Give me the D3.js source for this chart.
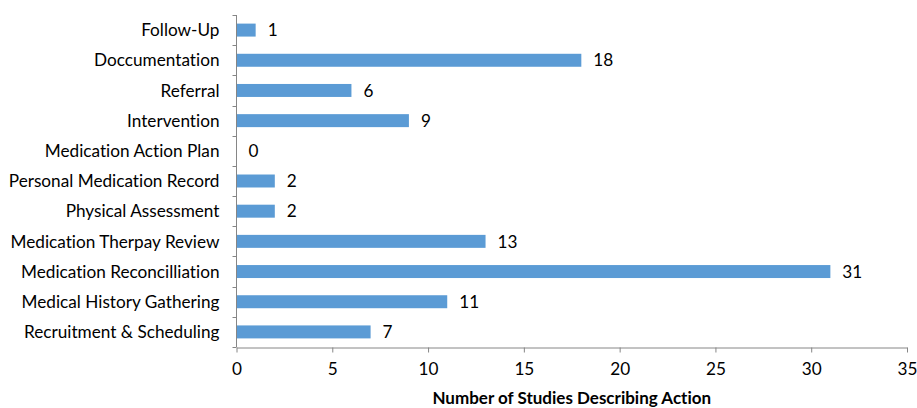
<!DOCTYPE html>
<html>
<head>
<meta charset="utf-8">
<script src="https://cdn.jsdelivr.net/npm/d3@7"></script>
<style>
  html, body { margin: 0; padding: 0; background: #fff; }
  svg { display: block; font-family: Lato, "Open Sans", sans-serif; font-variant-ligatures: none; }
</style>
</head>
<body>
<svg id="chart" width="917" height="408"></svg>
<script>
// Care-process actions, listed top to bottom
const categories = [
  "Follow-Up",
  "Doccumentation",
  "Referral",
  "Intervention",
  "Medication Action Plan",
  "Personal Medication Record",
  "Physical Assessment",
  "Medication Therpay Review",
  "Medication Reconcilliation",
  "Medical History Gathering",
  "Recruitment & Scheduling"
];
const studyCounts = [1, 18, 6, 9, 0, 2, 2, 13, 31, 11, 7];
const xTicks = [0, 5, 10, 15, 20, 25, 30, 35];
const xTitle = "Number of Studies Describing Action";

const svg = d3.select("#chart");
const plotLeft = 236.5, plotRight = 907, plotTop = 15, plotBottom = 347;
const fontFamily = "Lato, \"Open Sans\", sans-serif";
const labelSize = 17.2;

const x = d3.scaleLinear().domain([0, 35]).range([plotLeft, plotRight]);
const y = d3.scaleBand().domain(categories).range([plotTop, plotBottom]).paddingInner(0.57).paddingOuter(0.285);

const axisColor = "#868686";

// bars
svg.append("g").selectAll("rect")
  .data(categories)
  .join("rect")
  .attr("x", x(0))
  .attr("y", d => y(d))
  .attr("width", (d, i) => x(studyCounts[i]) - x(0))
  .attr("height", y.bandwidth())
  .attr("fill", "#5B9BD5");

// value labels
svg.append("g").selectAll("text")
  .data(categories)
  .join("text")
  .attr("x", (d, i) => x(studyCounts[i]) + 12)
  .attr("y", d => y(d) + y.bandwidth() / 2)
  .attr("dy", "0.36em")
  .attr("font-size", labelSize)
  .attr("fill", "#000")
  .text((d, i) => studyCounts[i]);

// category axis: line, ticks between categories, labels
const step = (plotBottom - plotTop) / categories.length;
const yAxis = svg.append("g");
yAxis.append("line")
  .attr("x1", plotLeft).attr("x2", plotLeft)
  .attr("y1", plotTop).attr("y2", plotBottom)
  .attr("stroke", axisColor);
yAxis.selectAll("line.tick")
  .data(d3.range(categories.length + 1))
  .join("line")
  .attr("class", "tick")
  .attr("x1", plotLeft - 4).attr("x2", plotLeft)
  .attr("y1", i => Math.round(plotTop + i * step) + 0.5)
  .attr("y2", i => Math.round(plotTop + i * step) + 0.5)
  .attr("stroke", axisColor);
yAxis.selectAll("text")
  .data(categories)
  .join("text")
  .attr("x", plotLeft - 17)
  .attr("y", d => y(d) + y.bandwidth() / 2)
  .attr("dy", "0.36em")
  .attr("text-anchor", "end")
  .attr("font-size", labelSize)
  .attr("fill", "#000")
  .text(d => d);

// value axis
const xAxis = svg.append("g")
  .attr("transform", `translate(0,${plotBottom + 0.5})`)
  .call(d3.axisBottom(x).tickValues(xTicks).tickSize(5).tickPadding(10).tickSizeOuter(0));
xAxis.select(".domain").attr("stroke", axisColor);
xAxis.selectAll(".tick line").attr("stroke", axisColor);
xAxis.selectAll(".tick text")
  .attr("font-size", labelSize)
  .attr("font-family", fontFamily)
  .attr("fill", "#000");

// axis title
svg.append("text")
  .attr("x", (plotLeft + plotRight) / 2)
  .attr("y", 398)
  .attr("dy", "0.36em")
  .attr("text-anchor", "middle")
  .attr("font-size", 17)
  .attr("font-weight", "bold")
  .attr("fill", "#000")
  .text(xTitle);
</script>
</body>
</html>
